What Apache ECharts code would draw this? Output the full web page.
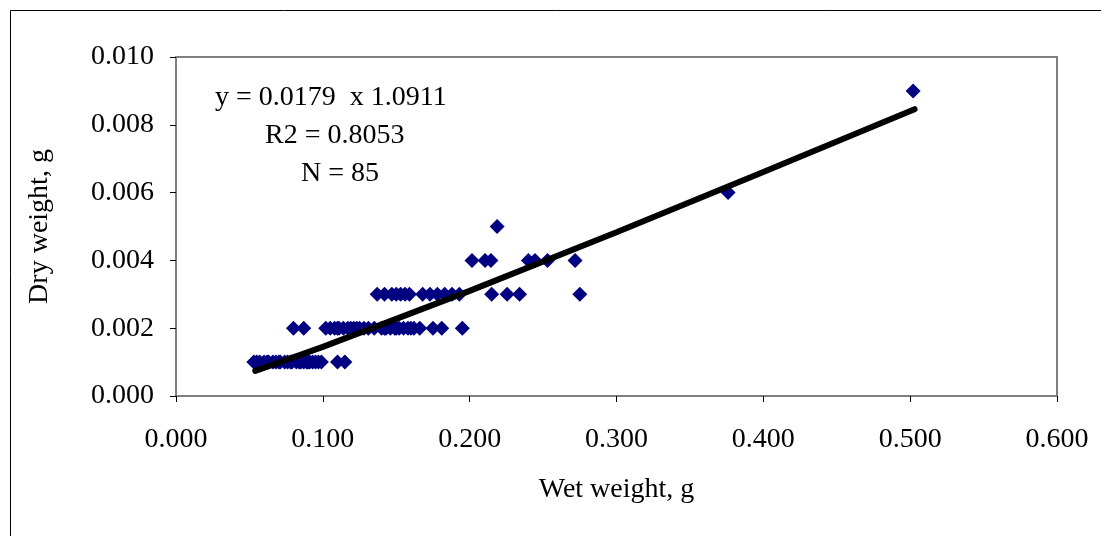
<!DOCTYPE html>
<html>
<head>
<meta charset="utf-8">
<script src="https://cdn.jsdelivr.net/npm/echarts@6/dist/echarts.min.js"></script>
<style>html,body{margin:0;padding:0;background:#fff;}#c{width:1101px;height:536px;}</style>
</head>
<body>
<div id="c"></div>
<script>
// Wet weight (g) of each specimen, grouped by measured dry weight (g)
const wetAtDry001 = [0.053, 0.055, 0.057, 0.060, 0.062, 0.063, 0.066, 0.068, 0.070, 0.071, 0.074, 0.076, 0.078, 0.079, 0.082, 0.084, 0.085, 0.087, 0.089, 0.090, 0.091, 0.093, 0.095, 0.097, 0.099, 0.110, 0.115];
const wetAtDry002 = [0.080, 0.087, 0.102, 0.105, 0.108, 0.110, 0.111, 0.114, 0.117, 0.119, 0.121, 0.123, 0.125, 0.128, 0.131, 0.135, 0.140, 0.142, 0.143, 0.146, 0.149, 0.150, 0.152, 0.155, 0.158, 0.160, 0.162, 0.166, 0.175, 0.181, 0.195];
const wetAtDry003 = [0.137, 0.142, 0.147, 0.150, 0.153, 0.156, 0.159, 0.168, 0.173, 0.178, 0.183, 0.188, 0.193, 0.215, 0.2255, 0.234, 0.275];
const wetAtDry004 = [0.2016, 0.2105, 0.2145, 0.240, 0.2445, 0.253, 0.2718];
const wetAtDry005 = [0.2187];
const wetAtDry006 = [0.376];
const wetAtDry009 = [0.502];
const dryLevels = [0.001, 0.002, 0.003, 0.004, 0.005, 0.006, 0.009];
// Fitted power trend line
const trendX = [0.054, 0.100, 0.200, 0.300, 0.400, 0.503];
const trendY = [0.00074, 0.00145, 0.00310, 0.00483, 0.00661, 0.00846];
const xTicks = [0, 0.1, 0.2, 0.3, 0.4, 0.5, 0.6];
const yTicks = [0, 0.002, 0.004, 0.006, 0.008, 0.010];
const annotation = ['y = 0.0179  x 1.0911', 'R2 = 0.8053', 'N = 85'];
const xName = 'Wet weight, g';
const yName = 'Dry weight, g';

const groups = [wetAtDry001, wetAtDry002, wetAtDry003, wetAtDry004, wetAtDry005, wetAtDry006, wetAtDry009];
const points = [];
groups.forEach((g, i) => g.forEach(x => points.push([x, dryLevels[i]])));
const trend = trendX.map((x, i) => [x, trendY[i]]);

const FONT = '"Liberation Serif", "Times New Roman", serif';
const FS = 28;
const chart = echarts.init(document.getElementById('c'), null, {renderer: 'canvas'});
chart.setOption({
  animation: false,
  backgroundColor: '#fff',
  grid: {left: 176, top: 57, right: 44, bottom: 140, show: true, borderColor: '#808080', borderWidth: 2, backgroundColor: 'transparent'},
  xAxis: {
    type: 'value', min: xTicks[0], max: xTicks[xTicks.length - 1], interval: 0.1,
    name: xName, nameLocation: 'middle', nameGap: 80,
    nameTextStyle: {fontFamily: FONT, fontSize: FS, color: '#000'},
    axisLine: {show: true, lineStyle: {color: '#808080', width: 2}},
    axisTick: {show: true, inside: false, length: 6, lineStyle: {color: '#000', width: 1}},
    axisLabel: {fontFamily: FONT, fontSize: FS, color: '#000', margin: 30, formatter: v => v.toFixed(3)},
    splitLine: {show: false}
  },
  yAxis: {
    type: 'value', min: yTicks[0], max: yTicks[yTicks.length - 1], interval: 0.002,
    name: yName, nameLocation: 'middle', nameGap: 122,
    nameTextStyle: {fontFamily: FONT, fontSize: FS, color: '#000'},
    axisLine: {show: true, lineStyle: {color: '#808080', width: 2}},
    axisTick: {show: true, inside: false, length: 6, lineStyle: {color: '#000', width: 1}},
    axisLabel: {fontFamily: FONT, fontSize: FS, color: '#000', margin: 22, formatter: v => v.toFixed(3)},
    splitLine: {show: false}
  },
  series: [
    {type: 'scatter', data: points, symbol: 'diamond', symbolSize: 15, itemStyle: {color: '#000080', opacity: 1}, z: 2},
    {type: 'line', data: trend, showSymbol: false, symbol: 'none', lineStyle: {color: '#000', width: 6, cap: 'round'}, z: 3}
  ],
  graphic: [
    {type: 'rect', shape: {x: 10.5, y: 10.5, width: 1100, height: 540}, style: {fill: 'none', stroke: '#000', lineWidth: 1}, silent: true},
    {type: 'text', left: 215, top: 84, style: {text: annotation[0], fontFamily: FONT, fontSize: FS, fill: '#000'}},
    {type: 'text', left: 265, top: 122, style: {text: annotation[1], fontFamily: FONT, fontSize: FS, fill: '#000'}},
    {type: 'text', left: 301, top: 160, style: {text: annotation[2], fontFamily: FONT, fontSize: FS, fill: '#000'}}
  ]
});
</script>
</body>
</html>
